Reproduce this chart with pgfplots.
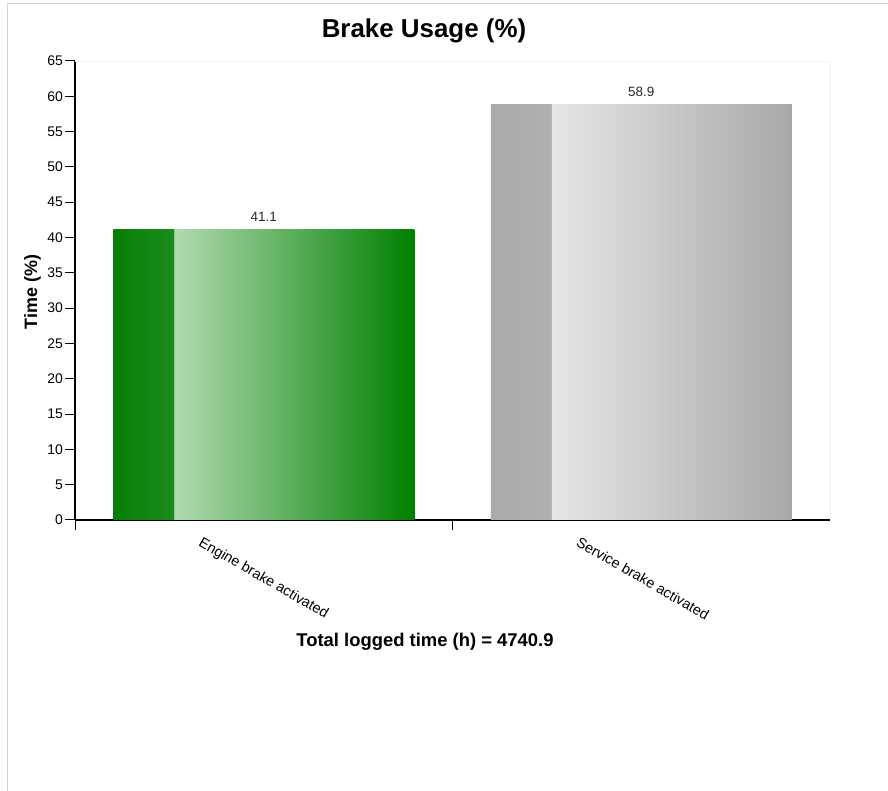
\documentclass[border=0pt]{standalone}
\usepackage{pgfplots}
\pgfplotsset{compat=1.18}
\usepackage{fontspec}
\setmainfont{Liberation Sans}

% bar colours: dark left strip, then light-to-dark gradient
\definecolor{gA}{RGB}{6,127,6}
\definecolor{gB}{RGB}{28,139,28}
\definecolor{gC}{RGB}{178,218,178}
\definecolor{gD}{RGB}{0,128,0}
\definecolor{sA}{RGB}{170,170,170}
\definecolor{sB}{RGB}{176,176,176}
\definecolor{sC}{RGB}{230,230,230}
\definecolor{sD}{RGB}{168,168,168}
\definecolor{lbl}{RGB}{40,40,40}

\pgfdeclarehorizontalshading{greenbar}{100bp}{color(0bp)=(gA); color(25bp)=(gA); color(35bp)=(gB); color(35.05bp)=(gC); color(75bp)=(gD); color(100bp)=(gD)}
\pgfdeclarehorizontalshading{graybar}{100bp}{color(0bp)=(sA); color(25bp)=(sA); color(35bp)=(sB); color(35.05bp)=(sC); color(75bp)=(sD); color(100bp)=(sD)}

\begin{document}
\begin{tikzpicture}
\path[use as bounding box] (0bp,0bp) rectangle (888bp,791bp);
\draw[black!18, line width=1bp] (7bp,0bp) -- (7bp,787bp) -- (888bp,787bp);

\begin{axis}[
  at={(75bp,271bp)}, anchor=south west,
  scale only axis, width=755bp, height=459bp,
  xmin=-0.5, xmax=1.5, ymin=0, ymax=65,
  axis lines*=left,
  axis line style={line width=1.6bp},
  xtick={-0.5,0.5},
  xticklabels={Engine brake activated, Service brake activated},
  ytick={0,5,...,65},
  tick align=outside,
  major tick length=10bp,
  tick style={black, line width=1bp},
  tick label style={font=\fontsize{14}{16}\selectfont},
  xticklabel style={font=\fontsize{14.5}{16}\selectfont, inner sep=0pt, xshift=128bp, yshift=-6bp, rotate=-30, anchor=north west},
  yticklabel style={inner sep=2bp},
  /pgf/number format/assume math mode=true,
  every node near coord/.append style={font=\fontsize{13.5}{15}\selectfont, text=lbl, anchor=base, inner sep=0pt, yshift=8bp},
  clip=false,
]
\draw[black!5] (axis cs:-0.5,65) -- (axis cs:1.5,65) -- (axis cs:1.5,0);

\addplot[ybar, bar width=301bp, bar shift=0pt, draw=none, shade, shading=greenbar,
  nodes near coords] coordinates {(0,41.1)};
\addplot[ybar, bar width=301bp, bar shift=0pt, draw=none, shade, shading=graybar,
  nodes near coords] coordinates {(1,58.9)};
\end{axis}

\node[font=\bfseries\fontsize{26}{30}\selectfont, anchor=base] at (424bp,753bp) {Brake Usage (\%)};
\node[font=\bfseries\fontsize{18}{22}\selectfont, rotate=90, anchor=base] at (37bp,499bp) {Time (\%)};
\node[font=\bfseries\fontsize{18.5}{22}\selectfont, anchor=base] at (425bp,144bp) {Total logged time (h) = 4740.9};
\end{tikzpicture}
\end{document}
